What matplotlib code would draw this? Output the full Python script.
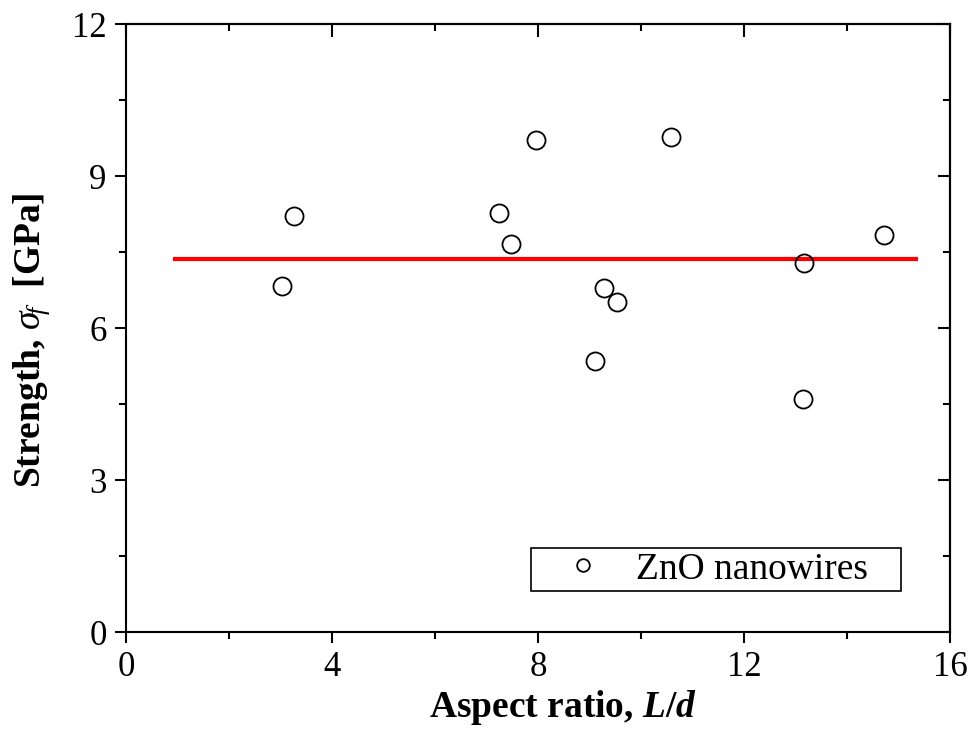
import numpy as np
import matplotlib
matplotlib.use('Agg')
import matplotlib.pyplot as plt
from matplotlib.ticker import MultipleLocator

# measured points: aspect ratio L/d and fracture strength [GPa]
aspect = [3.03, 3.27, 7.24, 7.47, 7.96, 9.10, 9.29, 9.53, 10.59, 13.17, 13.15, 14.71]
strength = [6.83, 8.22, 8.27, 7.66, 9.72, 5.35, 6.79, 6.52, 9.78, 7.28, 4.61, 7.85]

# mean strength line
mean_x = [0.96, 15.34]
mean_y = [7.36, 7.36]

plt.rcParams['font.family'] = ['Liberation Serif', 'DejaVu Serif']
plt.rcParams['mathtext.fontset'] = 'custom'
plt.rcParams['mathtext.rm'] = 'Liberation Serif'
plt.rcParams['mathtext.it'] = 'Liberation Serif:italic'
plt.rcParams['mathtext.bf'] = 'Liberation Serif:bold'
plt.rcParams['mathtext.bfit'] = 'Liberation Serif:italic:bold'


def main():
    fig = plt.figure(figsize=(9.73, 7.42), dpi=100)
    ax = fig.add_axes([0.1295, 0.1482, 0.8469, 0.8188])

    ax.plot(mean_x, mean_y, color='#ff0000', lw=3, zorder=2)
    ax.plot(aspect, strength, 'o', ms=13, mfc='none', mec='black', mew=1.3,
            zorder=3, label='ZnO nanowires')

    ax.set_xlim(0, 16)
    ax.set_ylim(0, 12)
    ax.xaxis.set_major_locator(MultipleLocator(4))
    ax.xaxis.set_minor_locator(MultipleLocator(2))
    ax.yaxis.set_major_locator(MultipleLocator(3))
    ax.yaxis.set_minor_locator(MultipleLocator(1.5))

    for s in ax.spines.values():
        s.set_linewidth(1.5)
    ax.tick_params(which='major', direction='out', length=8, width=1.5,
                   labelsize=25, pad=6)
    ax.tick_params(which='minor', direction='out', length=5, width=1.5)

    # ticks on top and right point inwards
    top = ax.secondary_xaxis('top')
    top.xaxis.set_major_locator(MultipleLocator(4))
    top.xaxis.set_minor_locator(MultipleLocator(2))
    top.tick_params(which='major', direction='in', length=9, width=1.5, labeltop=False)
    top.tick_params(which='minor', direction='in', length=5, width=1.5)
    top.spines['top'].set_linewidth(1.5)
    right = ax.secondary_yaxis('right')
    right.yaxis.set_major_locator(MultipleLocator(3))
    right.yaxis.set_minor_locator(MultipleLocator(1.5))
    right.tick_params(which='major', direction='in', length=9, width=1.5, labelright=False)
    right.tick_params(which='minor', direction='in', length=5, width=1.5)
    right.spines['right'].set_linewidth(1.5)

    ax.set_xlabel(r'Aspect ratio, $\boldsymbol{L/d}$', fontsize=27, fontweight='bold')
    ax.set_ylabel(r'Strength, $\sigma_{\!f}$  [GPa]', fontsize=27, fontweight='bold')
    ax.xaxis.set_label_coords(0.53, -0.092)
    ax.yaxis.set_label_coords(-0.09, 0.48)

    leg = ax.legend(loc='lower left', bbox_to_anchor=(0.4915, 0.0675),
                    borderaxespad=0, fontsize=27, markerscale=0.7,
                    handlelength=2.53, handletextpad=0.16, borderpad=0.12,
                    fancybox=False, framealpha=1, edgecolor='black')
    leg.get_frame().set_linewidth(1.2)
    # pad the text on the right to reach the box width of the reference
    leg.get_texts()[0].set_text('ZnO nanowires   ')

    fig.savefig('out.png', dpi=100)


if __name__ == '__main__':
    main()
